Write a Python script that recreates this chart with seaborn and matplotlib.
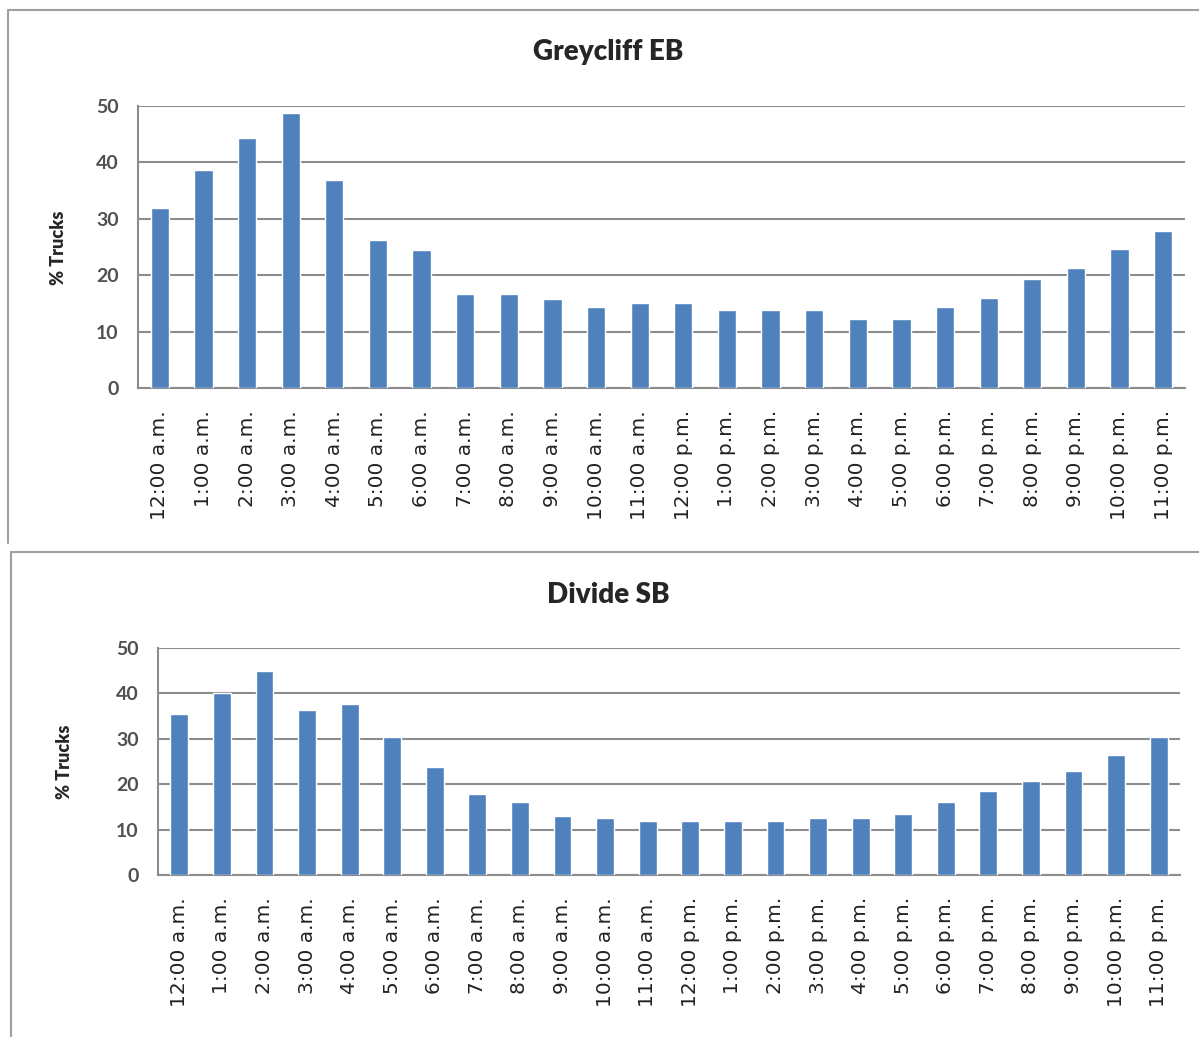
import matplotlib
matplotlib.use("Agg")
import matplotlib.pyplot as plt
from matplotlib.lines import Line2D
import seaborn as sns
import pandas as pd

# hour labels shared by both charts
hours = ["12:00 a.m.", "1:00 a.m.", "2:00 a.m.", "3:00 a.m.", "4:00 a.m.", "5:00 a.m.",
         "6:00 a.m.", "7:00 a.m.", "8:00 a.m.", "9:00 a.m.", "10:00 a.m.", "11:00 a.m.",
         "12:00 p.m.", "1:00 p.m.", "2:00 p.m.", "3:00 p.m.", "4:00 p.m.", "5:00 p.m.",
         "6:00 p.m.", "7:00 p.m.", "8:00 p.m.", "9:00 p.m.", "10:00 p.m.", "11:00 p.m."]

# % trucks
greycliff_eb = [32.0, 38.6, 44.3, 48.7, 36.9, 26.2, 24.4, 16.7, 16.7, 15.7, 14.4, 15.0,
                15.0, 13.9, 13.9, 13.9, 12.2, 12.2, 14.4, 16.0, 19.4, 21.3, 24.7, 27.9]
divide_sb = [35.5, 40.1, 45.0, 36.3, 37.6, 30.3, 23.8, 17.8, 16.1, 13.1, 12.6, 11.8,
             11.8, 11.8, 11.8, 12.6, 12.6, 13.5, 16.0, 18.6, 20.8, 23.0, 26.4, 30.3]

titles = ["Greycliff EB", "Divide SB"]
y_ticks = [0, 10, 20, 30, 40, 50]

sns.set_style("white")
bar_color = "#4F81BD"
grid_color = "#8C8C8C"

W, H = 1199, 1037
fig = plt.figure(figsize=(W / 100, H / 100), dpi=100)


def px_axes(left, top, right, bottom):
    # build axes from pixel box of the picture
    return fig.add_axes([left / W, 1 - bottom / H, (right - left) / W, (bottom - top) / H])


def draw_chart(ax, values, title, title_y):
    df = pd.DataFrame({"hour": hours, "pct": values})
    sns.barplot(data=df, x="hour", y="pct", color=bar_color, width=0.42,
                saturation=1, ax=ax, zorder=3)
    ax.set_ylim(0, 50)
    ax.set_xlim(-0.5, len(hours) - 0.5)
    ax.set_yticks(y_ticks)
    ax.set_yticklabels([str(t) for t in y_ticks], family="Lato", fontweight="bold",
                       fontsize=14, color="#505050")
    ax.set_xticks(range(len(hours)))
    ax.set_xticklabels(hours, rotation=90, family="DejaVu Sans", fontsize=14.5,
                       color="#222222")
    ax.tick_params(axis="x", length=0, pad=16)
    ax.set_xticks([i - 0.5 for i in range(len(hours) + 1)], minor=True)
    ax.tick_params(axis="x", which="minor", length=6, color=grid_color, width=1.2)
    ax.tick_params(axis="y", length=6, color=grid_color, width=1.2, pad=8)
    ax.grid(axis="y", color=grid_color, linewidth=1.5, zorder=0)
    ax.set_axisbelow(True)
    for side in ["top", "right"]:
        ax.spines[side].set_visible(False)
    for side in ["left", "bottom"]:
        ax.spines[side].set_color(grid_color)
        ax.spines[side].set_linewidth(1.5)
    ax.set_xlabel("")
    ax.set_ylabel("")
    fig.text(608 / W, 1 - title_y / H, title, ha="center", va="center",
             family="Lato", fontweight="heavy", fontsize=20)
    return ax


ax1 = px_axes(138, 106, 1185, 388)
draw_chart(ax1, greycliff_eb, titles[0], 52)
fig.text(58 / W, 1 - 248 / H, "% Trucks", rotation=90, ha="center", va="center",
         family="Lato", fontweight="heavy", fontsize=13)

ax2 = px_axes(158, 648, 1180, 875)
draw_chart(ax2, divide_sb, titles[1], 595)
fig.text(65 / W, 1 - 762 / H, "% Trucks", rotation=90, ha="center", va="center",
         family="Lato", fontweight="heavy", fontsize=13)

# panel frames
frame = dict(color="#A0A0A0", linewidth=1.5, transform=fig.transFigure)
fig.add_artist(Line2D([8 / W, 1], [1 - 10 / H, 1 - 10 / H], **frame))
fig.add_artist(Line2D([8 / W, 8 / W], [1 - 10 / H, 1 - 543 / H], **frame))
fig.add_artist(Line2D([11 / W, 1], [1 - 552 / H, 1 - 552 / H], **frame))
fig.add_artist(Line2D([11 / W, 11 / W], [1 - 552 / H, 0], **frame))

fig.savefig("out.png", dpi=100)
